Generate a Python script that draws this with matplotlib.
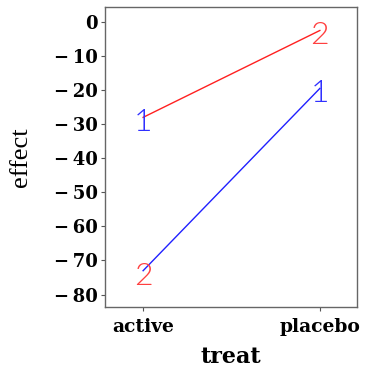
"""Interaction plot of effect by treatment for two groups."""
import matplotlib.pyplot as plt

treat = ['active', 'placebo']
group1_effect = [-28, -2.5]     # red line
group2_effect = [-73, -19.5]    # blue line
group1_labels = ['1', '2']
group2_labels = ['2', '1']
yticks = [0, -10, -20, -30, -40, -50, -60, -70, -80]

fig = plt.figure(figsize=(3.65, 3.67), dpi=100)
ax = fig.add_axes([0.288, 0.164, 0.690, 0.817])

x = list(range(len(treat)))
ax.plot(x, group1_effect, color='#ff2020', lw=1)
ax.plot(x, group2_effect, color='#2020ff', lw=1)

# point labels, drawn in the colour of the other group
lab_font = dict(family=['Lato', 'DejaVu Sans'], fontweight=300,
                fontsize=23, ha='center', va='top')
for xi, y, s in zip(x, group1_effect, group1_labels):
    col = '#3030ff' if s == '1' else '#ff4040'
    ax.annotate(s, (xi, y), xytext=(0, 9), textcoords='offset pixels',
                color=col, **lab_font)
for xi, y, s in zip(x, group2_effect, group2_labels):
    col = '#3030ff' if s == '1' else '#ff4040'
    ax.annotate(s, (xi, y), xytext=(0, 9), textcoords='offset pixels',
                color=col, **lab_font)

ax.set_xlim(-0.215, 1.21)
ax.set_ylim(-83.6, 4.4)
ax.set_xticks(x)
ax.set_xticklabels(treat, family='DejaVu Serif', fontweight='bold', fontsize=13.5)
ax.set_yticks(yticks)
ax.set_yticklabels([('\u2212\u2009' + str(-v)) if v < 0 else str(v) for v in yticks],
                   family='DejaVu Serif', fontweight='bold', fontsize=13)
ax.tick_params(length=3, width=0.8, color='#555555', pad=2)
ax.tick_params(axis='x', pad=5)

for sp in ax.spines.values():
    sp.set_color('#666666')
    sp.set_linewidth(1)

ax.set_xlabel('treat', family='DejaVu Serif', fontweight='bold', fontsize=16, labelpad=7)
ax.set_ylabel('effect', family='Liberation Serif', fontsize=19)
ax.yaxis.set_label_coords(-0.29, 0.5)

fig.savefig('out.png', dpi=100)
